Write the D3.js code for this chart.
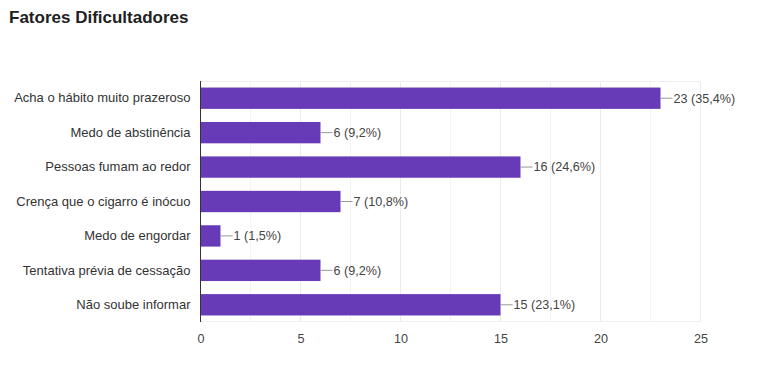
<!DOCTYPE html>
<html><head><meta charset="utf-8">
<script src="https://cdn.jsdelivr.net/npm/d3@7/dist/d3.min.js"></script>
<style>body{margin:0;background:#fff;font-family:"Liberation Sans",Arial,sans-serif;}</style>
</head><body>
<svg id="c" width="778" height="379"></svg>
<script>
const categories = ["Acha o hábito muito prazeroso","Medo de abstinência","Pessoas fumam ao redor","Crença que o cigarro é inócuo","Medo de engordar","Tentativa prévia de cessação","Não soube informar"];
const values = [23, 6, 16, 7, 1, 6, 15];
const percents = ["35,4%","9,2%","24,6%","10,8%","1,5%","9,2%","23,1%"];
const ticks = [0, 5, 10, 15, 20, 25];
const minorTicks = [2.5, 7.5, 12.5, 17.5, 22.5];

const svg = d3.select("#c");
const L = 200.5, R = 700.5, T = 81, B = 322;
const x = d3.scaleLinear().domain([0, 25]).range([L, R]);
const y = d3.scaleBand().domain(categories).range([T, B]).paddingInner(0.38).paddingOuter(0.19);

svg.append("text").attr("x", 9).attr("y", 23).text("Fatores Dificultadores")
  .attr("font-size", 17).attr("font-weight", "bold").attr("fill", "#212121");

const g = svg.append("g");
g.selectAll(".minor").data(minorTicks).join("line")
  .attr("x1", d => x(d)).attr("x2", d => x(d)).attr("y1", T).attr("y2", B)
  .attr("stroke", "#f3f3f3");
g.selectAll(".major").data(ticks.slice(1)).join("line")
  .attr("x1", d => x(d)).attr("x2", d => x(d)).attr("y1", T).attr("y2", B)
  .attr("stroke", "#ebebeb");
g.append("line").attr("x1", L).attr("x2", R).attr("y1", T + 0.5).attr("y2", T + 0.5).attr("stroke", "#f0f0f0");
g.append("line").attr("x1", L).attr("x2", R).attr("y1", B - 0.5).attr("y2", B - 0.5).attr("stroke", "#f0f0f0");

g.selectAll("rect").data(values).join("rect")
  .attr("x", x(0)).attr("y", (d, i) => y(categories[i]))
  .attr("width", d => x(d) - x(0)).attr("height", y.bandwidth())
  .attr("fill", "#673ab7");

g.selectAll(".conn").data(values).join("line")
  .attr("x1", d => x(d)).attr("x2", d => x(d) + 12)
  .attr("y1", (d, i) => y(categories[i]) + y.bandwidth() / 2)
  .attr("y2", (d, i) => y(categories[i]) + y.bandwidth() / 2)
  .attr("stroke", "#999");

g.selectAll(".lab").data(values).join("text")
  .attr("x", d => x(d) + 13)
  .attr("y", (d, i) => y(categories[i]) + y.bandwidth() / 2)
  .attr("dy", "0.35em").attr("font-size", 12.6).attr("fill", "#444")
  .text((d, i) => d + " (" + percents[i] + ")");

const yAxis = svg.append("g").attr("transform", `translate(${L},0)`)
  .call(d3.axisLeft(y).tickSize(0).tickPadding(10));
yAxis.select(".domain").remove();
yAxis.append("line").attr("x1", 0).attr("x2", 0).attr("y1", T).attr("y2", B).attr("stroke", "#333");
yAxis.selectAll("text").attr("font-size", 13).attr("fill", "#333").attr("font-family", "Liberation Sans, Arial, sans-serif");

const xAxis = svg.append("g").attr("transform", `translate(0,${B})`)
  .call(d3.axisBottom(x).tickValues(ticks).tickSize(0).tickPadding(12));
xAxis.select(".domain").remove();
xAxis.selectAll("text").attr("font-size", 12.6).attr("fill", "#444").attr("font-family", "Liberation Sans, Arial, sans-serif");
</script>
</body></html>
